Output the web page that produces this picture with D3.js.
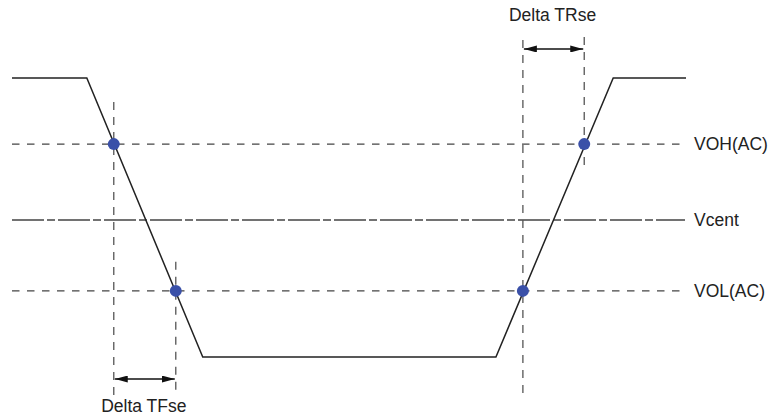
<!DOCTYPE html>
<html>
<head>
<meta charset="utf-8">
<script src="https://cdn.jsdelivr.net/npm/d3@7"></script>
<style>
  body { margin: 0; background: #fff; }
  svg text { font-family: Arial, "Liberation Sans", sans-serif; fill: #222; }
</style>
</head>
<body>
<div id="vis"></div>
<script>
// waveform: time (0..100) vs voltage (0 = low, 100 = high)
const WAVE_T = [0, 11.1, 28.3, 71.8, 89.2, 100];
const WAVE_V = [100, 100, 0, 0, 100, 100];

// reference levels
const LEVEL_NAMES = ["VOH(AC)", "Vcent", "VOL(AC)"];
const LEVEL_V = [76.3, 49.1, 23.7];
const LEVEL_DASH = ["7.5,7.5", "32,3,8,3", "7.5,7.5"];

// crossing points (time, voltage)
const CROSS_T = [15.1, 24.3, 75.8, 84.9];
const CROSS_V = [76.3, 23.7, 23.7, 76.3];

// delta markers: from time, to time, label, voltage of arrow
const DELTA_LABELS = ["Delta TFse", "Delta TRse"];
const DELTA_FROM = [15.1, 75.8];
const DELTA_TO = [24.3, 84.9];
const DELTA_ARROW_V = [-7.9, 110.4];
// vertical guides: time, top/bottom voltage
const GUIDE_T = [15.1, 24.3, 75.8, 84.9];
const GUIDE_V0 = [91.4, 34.1, -12.9, 68.8];
const GUIDE_V1 = [-13.6, -13.6, 116.1, 116.1];

const WIDTH = 769, HEIGHT = 417;
const SVG = d3.select("#vis").append("svg").attr("width", WIDTH).attr("height", HEIGHT);

const x = d3.scaleLinear().domain([0, 100]).range([12, 686]);
const y = d3.scaleLinear().domain([0, 100]).range([357, 78]);

// arrow markers
const defs = SVG.append("defs");
["start", "end"].forEach(k => {
  defs.append("marker")
    .attr("id", "arr-" + k)
    .attr("viewBox", "0 0 13 7")
    .attr("refX", k === "end" ? 13 : 0).attr("refY", 3.5)
    .attr("markerWidth", 13).attr("markerHeight", 7)
    .attr("markerUnits", "userSpaceOnUse")
    .attr("orient", "auto")
    .append("path")
    .attr("d", k === "end" ? "M0,0 L13,3.5 L0,7 Z" : "M13,0 L0,3.5 L13,7 Z")
    .attr("fill", "#111");
});

// level lines
SVG.selectAll(".level").data(LEVEL_V).join("line")
  .attr("x1", x(0)).attr("x2", x(100) - 1)
  .attr("y1", d => y(d)).attr("y2", d => y(d))
  .attr("stroke", "#444").attr("stroke-width", 1.3)
  .attr("stroke-dasharray", (d, i) => LEVEL_DASH[i]);

SVG.selectAll(".lvl-label").data(LEVEL_NAMES).join("text")
  .attr("x", x(100) + 8)
  .attr("y", (d, i) => y(LEVEL_V[i]) + 6)
  .attr("font-size", 17.5)
  .text(d => d);

// vertical guides
SVG.selectAll(".guide").data(GUIDE_T).join("line")
  .attr("x1", d => x(d)).attr("x2", d => x(d))
  .attr("y1", (d, i) => y(GUIDE_V0[i])).attr("y2", (d, i) => y(GUIDE_V1[i]))
  .attr("stroke", "#555").attr("stroke-width", 1.3)
  .attr("stroke-dasharray", "8,7");

// waveform
const line = d3.line().x(d => x(d[0])).y(d => y(d[1]));
SVG.append("path")
  .datum(WAVE_T.map((t, i) => [t, WAVE_V[i]]))
  .attr("d", line)
  .attr("fill", "none").attr("stroke", "#222").attr("stroke-width", 1.5);

// crossing dots
SVG.selectAll(".dot").data(CROSS_T).join("circle")
  .attr("cx", d => x(d)).attr("cy", (d, i) => y(CROSS_V[i]))
  .attr("r", 6).attr("fill", "#3a50a8");

// delta arrows
SVG.selectAll(".delta").data(DELTA_FROM).join("line")
  .attr("x1", d => x(d) + 1).attr("x2", (d, i) => x(DELTA_TO[i]) - 1)
  .attr("y1", (d, i) => y(DELTA_ARROW_V[i])).attr("y2", (d, i) => y(DELTA_ARROW_V[i]))
  .attr("stroke", "#111").attr("stroke-width", 1.5)
  .attr("marker-start", "url(#arr-start)").attr("marker-end", "url(#arr-end)");

SVG.selectAll(".delta-label").data(DELTA_LABELS).join("text")
  .attr("x", (d, i) => (x(DELTA_FROM[i]) + x(DELTA_TO[i])) / 2 - 1)
  .attr("y", (d, i) => i === 0 ? 412 : 21)
  .attr("text-anchor", "middle")
  .attr("font-size", 17.5)
  .text(d => d);
</script>
</body>
</html>
